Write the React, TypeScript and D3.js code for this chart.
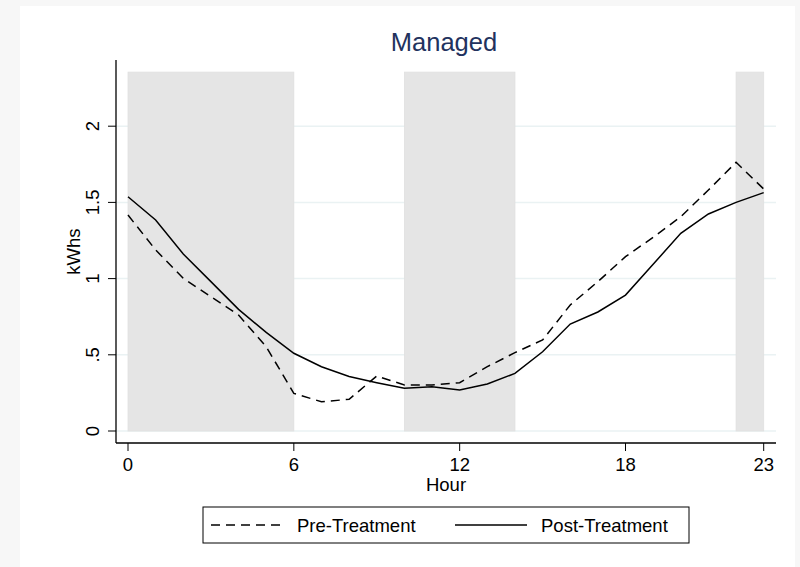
import React from "react";
import * as d3 from "d3";

// hourly consumption
const hours = d3.range(0, 24);
const preTreatment = [
  1.417, 1.188, 1.002, 0.881, 0.761, 0.553, 0.247, 0.192, 0.208, 0.361, 0.302, 0.302,
  0.317, 0.422, 0.514, 0.597, 0.827, 0.98, 1.144, 1.271, 1.406, 1.581, 1.763, 1.588,
];
const postTreatment = [
  1.537, 1.385, 1.161, 0.98, 0.798, 0.647, 0.51, 0.422, 0.358, 0.317, 0.28, 0.291,
  0.269, 0.308, 0.378, 0.52, 0.702, 0.781, 0.892, 1.094, 1.297, 1.424, 1.5, 1.564,
];
// peak periods shaded
const shadeStart = [0, 10, 22];
const shadeEnd = [6, 14, 23];
const shadeTop = 2.355;
const xTicks = [0, 6, 12, 18, 23];
const yTicks = [0, 0.5, 1, 1.5, 2];
const yTickLabels = ["0", ".5", "1", "1.5", "2"];

const W = 800;
const H = 567;
const font = "'Liberation Sans', Arial, Helvetica, sans-serif";
const fs = 18.5;

const App = () => {
  // plot region
  const left = 116,
    right = 776,
    top = 60,
    bottom = 443;

  const x = d3.scaleLinear().domain([0, 23]).range([128, 763.7]);
  const y = d3.scaleLinear().domain([0, 2]).range([431, 126.2]);

  const line = d3
    .line<number>()
    .x((d, i) => x(hours[i]))
    .y((d) => y(d));

  return (
    <svg
      width={W}
      height={H}
      style={{ position: "absolute", left: 0, top: 0, display: "block" }}
      fontFamily={font}
    >
      <rect x={0} y={0} width={W} height={H} fill="#f7f7f7" />
      <rect x={20} y={6} width={775} height={H - 6} fill="#ffffff" />

      {/* grid */}
      {yTicks.map((t) => (
        <line
          key={"g" + t}
          x1={left}
          x2={right}
          y1={y(t)}
          y2={y(t)}
          stroke="#eaf2f3"
          strokeWidth={1.5}
        />
      ))}

      {/* shading */}
      {shadeStart.map((s, i) => (
        <rect
          key={"s" + i}
          x={x(s)}
          y={y(shadeTop)}
          width={x(shadeEnd[i]) - x(s)}
          height={y(0) - y(shadeTop)}
          fill="#e5e5e5"
          stroke="#e0e0e0"
          strokeWidth={0.8}
        />
      ))}

      {/* lines */}
      <path
        d={line(preTreatment) || ""}
        fill="none"
        stroke="#000"
        strokeWidth={1.5}
        strokeDasharray="9,6"
      />
      <path d={line(postTreatment) || ""} fill="none" stroke="#000" strokeWidth={1.5} />

      {/* axes */}
      <line x1={left} x2={left} y1={top} y2={bottom} stroke="#000" strokeWidth={1.3} />
      <line x1={left} x2={right} y1={bottom} y2={bottom} stroke="#000" strokeWidth={1.3} />

      {yTicks.map((t, i) => (
        <g key={"yt" + t}>
          <line x1={left - 8} x2={left} y1={y(t)} y2={y(t)} stroke="#000" strokeWidth={1} />
          <text
            transform={`translate(98.5,${y(t)}) rotate(-90)`}
            textAnchor="middle"
            fontSize={fs}
            fill="#000"
          >
            {yTickLabels[i]}
          </text>
        </g>
      ))}
      <text
        transform={`translate(80,${(top + bottom) / 2}) rotate(-90)`}
        textAnchor="middle"
        fontSize={fs}
        fill="#000"
      >
        kWhs
      </text>

      {xTicks.map((t) => (
        <g key={"xt" + t}>
          <line x1={x(t)} x2={x(t)} y1={bottom} y2={bottom + 8} stroke="#000" strokeWidth={1} />
          <text x={x(t)} y={470.5} textAnchor="middle" fontSize={fs} fill="#000">
            {t}
          </text>
        </g>
      ))}
      <text x={(left + right) / 2} y={491} textAnchor="middle" fontSize={fs} fill="#000">
        Hour
      </text>

      <text x={444} y={51} textAnchor="middle" fontSize={25.5} fill="#22325e">
        Managed
      </text>

      {/* legend */}
      <rect x={203} y={507} width={486} height={36} fill="#fff" stroke="#000" strokeWidth={1} />
      <line x1={211} x2={285} y1={525} y2={525} stroke="#000" strokeWidth={1.5} strokeDasharray="9,6" />
      <text x={297} y={532} fontSize={fs} fill="#000">
        Pre-Treatment
      </text>
      <line x1={455} x2={527} y1={525} y2={525} stroke="#000" strokeWidth={1.5} />
      <text x={541} y={532} fontSize={fs} fill="#000">
        Post-Treatment
      </text>
    </svg>
  );
};

export default App;
